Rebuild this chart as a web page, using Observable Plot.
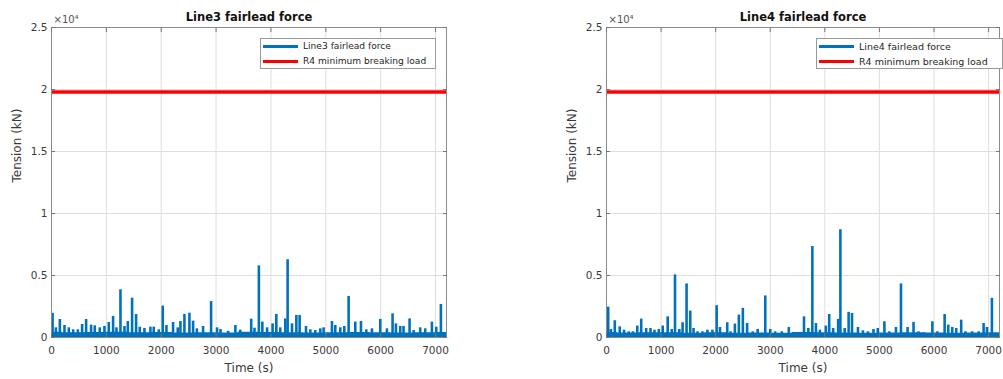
<!DOCTYPE html>
<html><head><meta charset="utf-8">
<script src="https://cdn.jsdelivr.net/npm/d3@7"></script>
<script src="https://cdn.jsdelivr.net/npm/@observablehq/plot@0.6"></script>
<style>
html,body{margin:0;padding:0;background:#fff}
body{overflow:hidden;width:1003px;height:379px;position:relative;font-family:"DejaVu Sans",sans-serif}
.panel{position:absolute;top:0;height:379px}
.panel svg{max-width:none !important}
.legend{position:absolute;background:#fff;border:1px solid #9a9a9a;color:#262626;box-sizing:border-box}
.row{position:absolute;left:0;display:flex;align-items:center;white-space:nowrap;height:14px}
.sw{display:inline-block;width:35px;height:3px}
</style></head><body>
<script>
// ---- data ----
const timeTicks = [0, 1000, 2000, 3000, 4000, 5000, 6000, 7000];
const tensionTicks = [0, 5000, 10000, 15000, 20000, 25000];
const timeDomain = [0, 7200];
const tensionDomain = [0, 25000];
const minimumBreakingLoad = 19800; // kN, R4

const line3SpikeTime = [20,80,152,237,316,395,480,558,631,722,789,880,965,1044,1123,1184,1257,1330,1391,1469,1542,1609,1694,1803,1864,1955,2028,2095,2216,2301,2350,2423,2514,2581,2650,2763,2909,3018,3080,3220,3352,3440,3640,3700,3780,3843,3930,4030,4098,4170,4262,4304,4384,4463,4523,4639,4718,4809,4900,4960,5112,5173,5264,5337,5416,5537,5641,5738,5841,5993,6114,6217,6278,6357,6417,6527,6600,6721,6812,6934,7013,7098];
const line3SpikeTension = [1950,780,1450,970,780,620,620,1050,1450,1000,940,780,890,1210,1700,780,3850,890,1290,3170,1860,830,730,830,830,620,2530,970,1210,780,1290,1860,1960,1320,700,890,2900,780,650,500,970,600,1480,750,5780,1240,780,1100,1860,780,1500,6270,1100,1780,1780,890,620,560,700,780,1290,970,780,890,3310,1240,1290,620,700,1450,700,1910,1100,890,890,1500,560,780,700,1240,830,2660];
const line3BaseTime = [0,400,800,1200,1600,2000,2400,2800,3200,3600,4000,4400,4800,5200,5600,6000,6400,6800,7200];
const line3BaseTension = [420,380,400,430,380,400,370,390,360,420,400,390,360,380,400,380,370,380,400];

const line4SpikeTime = [31,80,152,243,322,407,485,564,636,727,806,879,958,1030,1121,1195,1255,1334,1394,1467,1534,1595,1667,1758,1849,1940,2018,2079,2212,2273,2352,2425,2498,2576,2679,2770,2909,3000,3091,3212,3340,3455,3618,3698,3771,3837,3909,4018,4080,4152,4244,4285,4364,4436,4498,4607,4698,4789,4891,4970,5091,5182,5303,5395,5516,5625,5716,5818,5970,6061,6195,6261,6334,6407,6498,6576,6698,6818,6909,6970,7061];
const line4SpikeTension = [2450,650,1350,860,590,460,460,920,1480,730,730,590,650,920,1670,650,5050,650,1190,4320,2130,730,460,460,590,590,2570,810,1190,460,1080,1810,2350,1130,460,650,3350,650,460,460,810,380,1670,730,7340,1130,590,920,1860,730,1460,8690,730,2030,1940,810,540,460,650,730,1270,460,810,4320,810,1220,460,380,1270,460,1860,1000,810,730,1400,460,460,460,1130,810,3160];
const line4BaseTime = [0,400,800,1200,1600,2000,2400,2800,3200,3600,4000,4400,4800,5200,5600,6000,6400,6800,7200];
const line4BaseTension = [400,360,380,390,350,380,350,370,340,400,380,370,340,360,380,360,350,360,380];

const panels = [
  {title: "Line3 fairlead force", name: "Line3 fairlead force", left: 0, width: 470, marginRight: 24,
   spikeT: line3SpikeTime, spikeV: line3SpikeTension, baseT: line3BaseTime, baseV: line3BaseTension,
   legend: {left: 260, top: 38, width: 176, height: 31, font: 9.1}},
  {title: "Line4 fairlead force", name: "Line4 fairlead force", left: 555, width: 470, marginRight: 26,
   spikeT: line4SpikeTime, spikeV: line4SpikeTension, baseT: line4BaseTime, baseV: line4BaseTension,
   legend: {left: 816, top: 38, width: 187, height: 31, font: 9.5}}
];

const BLUE = "#0072BD";
const RED = "#FF0000";
const AX = "#3a3a3a";

for (const p of panels) {
  const spikes = p.spikeT.map((t, i) => ({t, v: p.spikeV[i]}));
  const base = p.baseT.map((t, i) => ({t, v: p.baseV[i]}));
  const chart = Plot.plot({
    width: p.width, height: 379,
    marginLeft: 51, marginRight: p.marginRight, marginTop: 27, marginBottom: 42,
    style: {fontFamily: "DejaVu Sans, sans-serif", fontSize: "10.5px", color: AX, background: "transparent", overflow: "visible", maxWidth: "none"},
    x: {domain: timeDomain},
    y: {domain: tensionDomain},
    marks: [
      Plot.gridX(timeTicks, {stroke: "#dedede", strokeOpacity: 1}),
      Plot.gridY(tensionTicks, {stroke: "#dedede", strokeOpacity: 1}),
      Plot.areaY(base, {x: "t", y: "v", fill: BLUE, curve: "step"}),
      Plot.ruleX(spikes, {x: "t", y1: 0, y2: "v", stroke: BLUE, strokeWidth: 2.6}),
      Plot.ruleY([minimumBreakingLoad], {stroke: RED, strokeWidth: 3.5}),
      Plot.frame({stroke: "#8a8a8a"}),
      Plot.axisX(timeTicks, {anchor: "bottom", tickSize: 0, tickPadding: 9, tickFormat: d => String(d), label: null, fontSize: 10.5}),
      Plot.axisX(timeTicks, {anchor: "bottom", tickSize: -4, tickFormat: () => "", label: null, stroke: "#777"}),
      Plot.axisX(timeTicks, {anchor: "top", tickSize: -4, tickFormat: () => "", label: null, stroke: "#777"}),
      Plot.axisY(tensionTicks, {anchor: "left", tickSize: 0, tickPadding: 4, tickFormat: d => String(d / 10000), label: null, fontSize: 10.5}),
      Plot.axisY(tensionTicks, {anchor: "left", tickSize: -4, tickFormat: () => "", label: null, stroke: "#777"}),
      Plot.axisY(tensionTicks, {anchor: "right", tickSize: -4, tickFormat: () => "", label: null, stroke: "#777"}),
      Plot.text([p.title], {frameAnchor: "top", dy: -10, lineAnchor: "middle", fontWeight: "bold", fontSize: 11.5, fill: "#111"}),
      Plot.text(["×10⁴"], {frameAnchor: "top-left", dx: 2, dy: -8, textAnchor: "start", lineAnchor: "middle", fontSize: 10, fill: "#555"}),
      Plot.text(["Time (s)"], {frameAnchor: "bottom", dy: 31, lineAnchor: "middle", fontSize: 12, fill: AX}),
      Plot.text(["Tension (kN)"], {frameAnchor: "left", dx: -34, rotate: -90, lineAnchor: "middle", fontSize: 12, fill: AX})
    ]
  });
  chart.style.maxWidth = "none";
  const wrap = document.createElement("div");
  wrap.className = "panel";
  wrap.style.left = p.left + "px";
  wrap.style.width = p.width + "px";
  wrap.appendChild(chart);
  document.body.appendChild(wrap);

  const lg = document.createElement("div");
  lg.className = "legend";
  Object.assign(lg.style, {left: p.legend.left + "px", top: p.legend.top + "px", width: p.legend.width + "px", height: p.legend.height + "px", fontSize: p.legend.font + "px"});
  const entries = [{label: p.name, color: BLUE, top: 0}, {label: "R4 minimum breaking load", color: RED, top: 15}];
  for (const e of entries) {
    const row = document.createElement("div");
    row.className = "row";
    row.style.top = e.top + "px";
    const sw = document.createElement("span");
    sw.className = "sw";
    sw.style.background = e.color;
    sw.style.marginLeft = "2px";
    sw.style.marginRight = "5px";
    const tx = document.createElement("span");
    tx.textContent = e.label;
    row.appendChild(sw);
    row.appendChild(tx);
    lg.appendChild(row);
  }
  document.body.appendChild(lg);
}
</script>
</body></html>
